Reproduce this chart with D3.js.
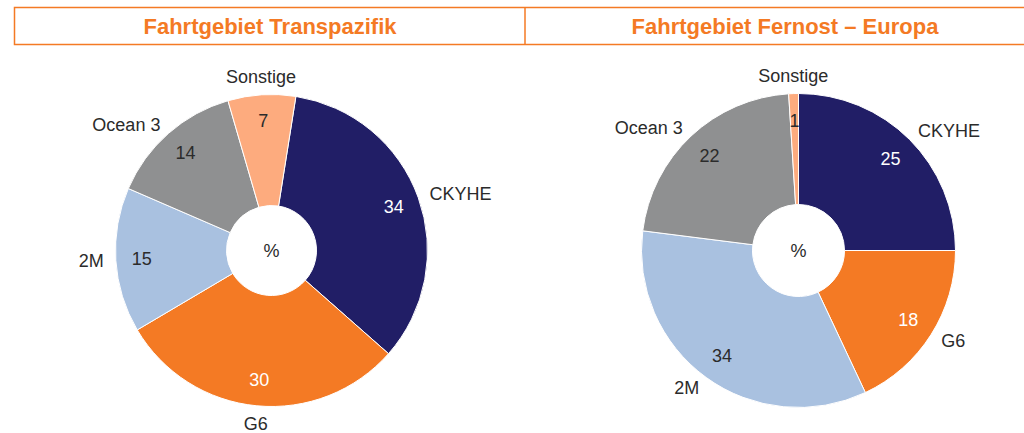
<!DOCTYPE html>
<html>
<head>
<meta charset="utf-8">
<script src="https://cdn.jsdelivr.net/npm/d3@7"></script>
<style>
  body { margin: 0; background: #fff; }
  svg { display: block; font-family: "Liberation Sans", Arial, sans-serif; }
</style>
</head>
<body>
<svg id="chart" width="1024" height="433"></svg>
<script>
// Chart data
const categories = ["CKYHE", "G6", "2M", "Ocean 3", "Sonstige"];
const transpazifik = [34, 30, 15, 14, 7];
const fernostEuropa = [25, 18, 34, 22, 1];
const titles = ["Fahrtgebiet Transpazifik", "Fahrtgebiet Fernost \u2013 Europa"];

const colors = d3.scaleOrdinal()
    .domain(categories)
    .range(["#211e66", "#f47a24", "#a9c1e0", "#8f9091", "#fdab7e"]);
const whiteText = new Set(["CKYHE", "G6"]);

const svg = d3.select("#chart");
const orange = "#f47a24";

// Header boxes
const header = svg.append("g");
header.append("rect")
    .attr("x", 14.5).attr("y", 7.5)
    .attr("width", 1040).attr("height", 37)
    .attr("fill", "none").attr("stroke", orange).attr("stroke-width", 1.5);
header.append("line")
    .attr("x1", 525).attr("x2", 525).attr("y1", 7.5).attr("y2", 44.5)
    .attr("stroke", orange).attr("stroke-width", 1.5);
header.selectAll("text.title")
    .data(titles)
    .enter().append("text")
    .attr("class", "title")
    .attr("x", (d, i) => i === 0 ? 270 : 785)
    .attr("y", 34)
    .attr("text-anchor", "middle")
    .attr("font-size", 22)
    .attr("font-weight", "bold")
    .attr("fill", orange)
    .text(d => d);

// Draw one donut
function drawDonut(values, cx, cy, outer, inner, startDeg) {
    const start = startDeg * Math.PI / 180;
    const pie = d3.pie().sort(null)
        .startAngle(start).endAngle(start + 2 * Math.PI)
        .value(d => d.value);
    const arc = d3.arc().innerRadius(inner).outerRadius(outer);
    const data = pie(categories.map((c, i) => ({ name: c, value: values[i] })));

    const g = svg.append("g").attr("transform", `translate(${cx},${cy})`);

    g.selectAll("path")
        .data(data)
        .enter().append("path")
        .attr("d", arc)
        .attr("fill", d => colors(d.data.name))
        .attr("stroke", "#fff")
        .attr("stroke-width", 1);

    const mid = d => (d.startAngle + d.endAngle) / 2;

    // values inside slices
    g.selectAll("text.val")
        .data(data)
        .enter().append("text")
        .attr("class", "val")
        .attr("x", d => 130 * Math.sin(mid(d)))
        .attr("y", d => -130 * Math.cos(mid(d)))
        .attr("dy", "0.35em")
        .attr("text-anchor", "middle")
        .attr("font-size", 18)
        .attr("fill", d => whiteText.has(d.data.name) ? "#fff" : "#2b2b2b")
        .text(d => d.data.value);

    // category labels outside
    g.selectAll("text.cat")
        .data(data)
        .enter().append("text")
        .attr("class", "cat")
        .attr("x", d => (outer + 12) * Math.sin(mid(d)))
        .attr("y", d => -(outer + 12) * Math.cos(mid(d)) - (Math.abs(Math.sin(mid(d))) < 0.35 ? Math.cos(mid(d)) * 6 : 0))
        .attr("dy", "0.35em")
        .attr("text-anchor", d => {
            const s = Math.sin(mid(d));
            return s > 0.35 ? "start" : (s < -0.35 ? "end" : "middle");
        })
        .attr("font-size", 18)
        .attr("fill", "#2b2b2b")
        .text(d => d.data.name);

    g.append("text")
        .attr("y", 0).attr("dy", "0.35em")
        .attr("text-anchor", "middle")
        .attr("font-size", 18)
        .attr("fill", "#2b2b2b")
        .text("%");
}

drawDonut(transpazifik, 271.5, 250.5, 156, 45, 9);
drawDonut(fernostEuropa, 798.5, 250.5, 157, 46, 0);
</script>
</body>
</html>
